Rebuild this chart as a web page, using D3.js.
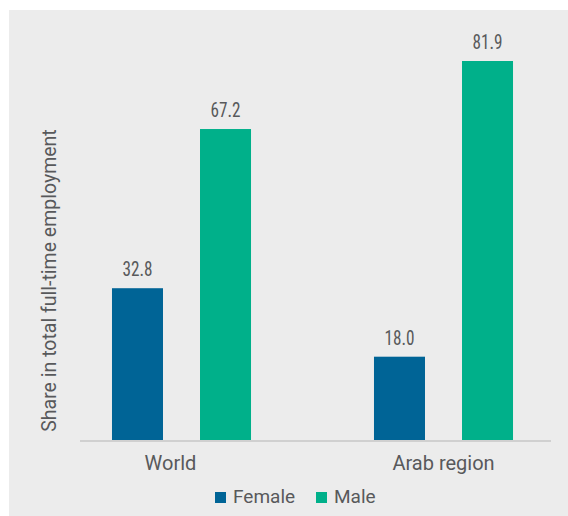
<!DOCTYPE html>
<html>
<head>
<meta charset="utf-8">
<script src="https://cdn.jsdelivr.net/npm/d3@7"></script>
<style>
  html, body { margin: 0; padding: 0; background: #ffffff; }
  svg { display: block; }
  text { font-family: "Roboto", "Liberation Sans", sans-serif; }
  text.val { font-family: "Roboto Condensed", "Liberation Sans Narrow", "Roboto", sans-serif; font-stretch: condensed; }
</style>
</head>
<body>
<div id="chart"></div>
<script>
const categories = ["World", "Arab region"];
const seriesNames = ["Female", "Male"];
const femaleValues = [32.8, 18.0];
const maleValues = [67.2, 81.9];
const colors = ["#006496", "#00b08a"];
const yAxisTitle = "Share in total full-time employment";

const W = 568, H = 516;
const svg = d3.select("#chart").append("svg").attr("width", W).attr("height", H);

// panel
svg.append("rect").attr("x", 9).attr("y", 10).attr("width", W - 9).attr("height", H - 10).attr("fill", "#ececec");

const baseY = 440;
const y = d3.scaleLinear().domain([0, 81.9]).range([baseY, 61]);
const x0 = d3.scaleBand().domain(categories).range([50.5, 574.5]).padding(0);
const x1 = d3.scaleBand().domain(seriesNames).range([-88, 88]).paddingInner(0.4205).paddingOuter(0.21);

const data = categories.map((c, i) => ({
  cat: c,
  vals: [
    { s: "Female", v: femaleValues[i], color: colors[0] },
    { s: "Male", v: maleValues[i], color: colors[1] }
  ]
}));

const textColor = "#58595b";

const g = svg.selectAll("g.grp").data(data).enter().append("g")
  .attr("class", "grp")
  .attr("transform", d => `translate(${x0(d.cat) + x0.bandwidth() / 2},0)`);

g.selectAll("rect").data(d => d.vals).enter().append("rect")
  .attr("x", d => x1(d.s))
  .attr("width", x1.bandwidth())
  .attr("y", d => y(d.v))
  .attr("height", d => y(0) - y(d.v))
  .attr("fill", d => d.color);

g.selectAll("text.val").data(d => d.vals).enter().append("text")
  .attr("class", "val")
  .attr("transform", d => `translate(${x1(d.s) + x1.bandwidth() / 2},${y(d.v) - 12}) scale(0.86,1)`)
  .attr("text-anchor", "middle")
  .attr("fill", textColor)
  .attr("font-size", 20)
  .text(d => d.v.toFixed(1));

// x axis line
svg.append("line").attr("x1", 80).attr("x2", 551).attr("y1", 441).attr("y2", 441)
  .attr("stroke", "#d0d0d0").attr("stroke-width", 2);

// category labels
svg.selectAll("text.cat").data(categories).enter().append("text")
  .attr("class", "cat")
  .attr("x", d => x0(d) + x0.bandwidth() / 2)
  .attr("dx", (d, i) => i === 0 ? -11 : 0)
  .attr("y", 469.5)
  .attr("text-anchor", "middle")
  .attr("fill", textColor)
  .attr("font-size", 20)
  .text(d => d);

// y title
svg.append("text")
  .attr("transform", "translate(56,280.5) rotate(-90)")
  .attr("text-anchor", "middle")
  .attr("fill", textColor)
  .attr("font-size", 19.5)
  .text(yAxisTitle);

// legend
const legendX = [215, 316];
const lg = svg.selectAll("g.leg").data(seriesNames).enter().append("g")
  .attr("class", "leg")
  .attr("transform", (d, i) => `translate(${legendX[i]},0)`);
lg.append("rect").attr("x", 0).attr("y", 492).attr("width", 11).attr("height", 11)
  .attr("fill", (d, i) => colors[i]);
lg.append("text").attr("x", 18).attr("y", 503)
  .attr("fill", textColor).attr("font-size", 19).text(d => d);
</script>
</body>
</html>
